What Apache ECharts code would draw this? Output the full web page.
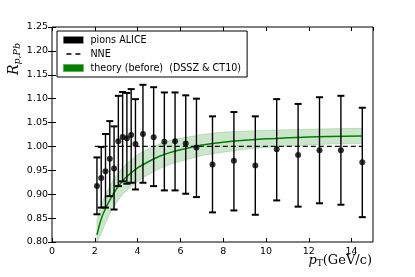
<!DOCTYPE html>
<html>
<head>
<meta charset="utf-8">
<script src="https://cdn.jsdelivr.net/npm/echarts@6/dist/echarts.min.js"></script>
<style>html,body{margin:0;padding:0;background:#fff}#c{width:415px;height:277px}</style>
</head>
<body>
<div id="c"></div>
<script>
// ALICE pions data: pT, R, lower, upper
const dataPt  = [2.1, 2.3, 2.5, 2.7, 2.9, 3.1, 3.3, 3.5, 3.7, 3.9, 4.25, 4.75, 5.25, 5.75, 6.25, 6.75, 7.5, 8.5, 9.5, 10.5, 11.5, 12.5, 13.5, 14.5];
const dataR   = [0.917, 0.934, 0.948, 0.974, 0.954, 1.011, 1.020, 1.017, 1.024, 1.005, 1.026, 1.019, 1.010, 1.011, 1.006, 0.998, 0.962, 0.970, 0.960, 0.994, 0.982, 0.992, 0.992, 0.967];
const dataLo  = [0.858, 0.872, 0.872, 0.896, 0.868, 0.917, 0.927, 0.922, 0.924, 0.910, 0.924, 0.917, 0.908, 0.908, 0.901, 0.894, 0.862, 0.866, 0.857, 0.887, 0.874, 0.881, 0.878, 0.852];
const dataHi  = [0.977, 0.999, 1.026, 1.053, 1.042, 1.106, 1.114, 1.112, 1.120, 1.099, 1.129, 1.124, 1.113, 1.113, 1.107, 1.100, 1.063, 1.072, 1.063, 1.099, 1.089, 1.103, 1.106, 1.081];

// theory curve and band
const thPt    = [2.1, 2.3, 2.5, 2.75, 3.0, 3.25, 3.5, 4.0, 4.5, 5.0, 5.5, 6.0, 7.0, 8.0, 9.0, 10.0, 11.0, 12.0, 13.0, 14.5];
const thR     = [0.815, 0.848, 0.870, 0.892, 0.910, 0.925, 0.937, 0.955, 0.968, 0.979, 0.987, 0.993, 1.003, 1.009, 1.013, 1.016, 1.018, 1.020, 1.021, 1.022];
const thUp    = [0.845, 0.878, 0.900, 0.921, 0.939, 0.953, 0.965, 0.983, 0.995, 1.005, 1.012, 1.017, 1.025, 1.030, 1.032, 1.034, 1.035, 1.036, 1.037, 1.038];
const thLow   = [0.785, 0.818, 0.840, 0.863, 0.881, 0.897, 0.909, 0.927, 0.941, 0.953, 0.962, 0.969, 0.981, 0.988, 0.994, 0.998, 1.001, 1.003, 1.005, 1.006];

// NNE
const nnePt   = [2.0, 14.5];
const nneR    = [1.0, 1.0];

const xTicksInterval = 2;
const yTicksInterval = 0.05;

const FONT = 'DejaVu Sans';
const yMin = 0.80, yMax = 1.25;

const chart = echarts.init(document.getElementById('c'), null, {renderer: 'canvas'});

const pts = dataPt.map((x, i) => [x, dataR[i], dataLo[i], dataHi[i]]);

const axisCommon = {
  axisTick: {show: true, inside: true, length: 4, lineStyle: {color: '#000', width: 1}},
  splitLine: {show: false},
  axisLine: {show: false}
};

chart.setOption({
  animation: false,
  backgroundColor: '#fff',
  grid: {left: 52, right: 42, top: 27, bottom: 35, show: true, borderColor: '#000', borderWidth: 1, backgroundColor: 'transparent'},
  xAxis: [
    Object.assign({
      type: 'value', min: 0, max: 15, interval: xTicksInterval, position: 'bottom',
      axisLabel: {show: true, color: '#000', fontFamily: FONT, fontSize: 9.5, margin: 5, showMaxLabel: false}
    }, axisCommon),
    Object.assign({
      type: 'value', min: 0, max: 15, interval: xTicksInterval, position: 'top',
      axisLabel: {show: false}
    }, axisCommon)
  ],
  yAxis: [
    Object.assign({
      type: 'value', min: yMin, max: yMax, interval: yTicksInterval, position: 'left',
      axisLabel: {show: true, color: '#000', fontFamily: FONT, fontSize: 9.5, margin: 4,
        formatter: v => v.toFixed(2)}
    }, axisCommon),
    Object.assign({
      type: 'value', min: yMin, max: yMax, interval: yTicksInterval, position: 'right',
      axisLabel: {show: false}
    }, axisCommon)
  ],
  legend: {
    orient: 'vertical', left: 57, top: 31,
    padding: [3, 6, 3, 6], itemGap: 2, itemWidth: 20, itemHeight: 7,
    borderColor: '#000', borderWidth: 1, borderRadius: 0, backgroundColor: '#fff',
    textStyle: {fontFamily: FONT, fontSize: 9.6, color: '#000', lineHeight: 12, padding: [0, 0, 0, 2]},
    data: [
      {name: 'pions ALICE', icon: 'rect', itemStyle: {color: '#000', borderWidth: 0}},
      {name: 'NNE', icon: 'path://M0,0M20,7M3,2.8h5v1.4h-5zM12,2.8h5v1.4h-5z', itemStyle: {color: '#000', borderWidth: 0}},
      {name: 'theory (before)  (DSSZ & CT10)', icon: 'rect', itemStyle: {color: '#008000', borderColor: '#5aa85a', borderWidth: 0.8}}
    ],
    selectedMode: false
  },
  graphic: [{
    type: 'text', x: 14, y: 59, rotation: Math.PI / 2,
    style: {
      text: '{r|R}{s|p,Pb}',
      align: 'center', verticalAlign: 'middle',
      rich: {
        r: {fontFamily: 'DejaVu Serif', fontStyle: 'italic', fontSize: 14, fill: '#000'},
        s: {fontFamily: 'DejaVu Serif', fontStyle: 'italic', fontSize: 9.5, fill: '#000', verticalAlign: 'bottom', padding: [7, 0, 0, 0]}
      }
    }
  }, {
    type: 'text', x: 372, y: 261,
    style: {
      text: '{p|p}{t|T}{g|(GeV/c)}',
      align: 'right', verticalAlign: 'middle',
      rich: {
        p: {fontFamily: 'DejaVu Serif', fontStyle: 'italic', fontSize: 13, fill: '#000'},
        t: {fontFamily: 'DejaVu Serif', fontSize: 9, fill: '#000', verticalAlign: 'bottom', padding: [6, 0, 0, 0]},
        g: {fontFamily: 'DejaVu Serif', fontSize: 13, fill: '#000'}
      }
    }
  }],
  series: [
    {
      name: 'theory (before)  (DSSZ & CT10)',
      type: 'custom', clip: true, z: 1, silent: true,
      data: [[thPt[0], thR[0]]],
      renderItem: function (params, api) {
        const up = thPt.map((x, i) => api.coord([x, thUp[i]]));
        const low = thPt.map((x, i) => api.coord([x, Math.max(thLow[i], yMin)])).reverse();
        return {
          type: 'polygon',
          shape: {points: up.concat(low)},
          style: {fill: 'rgba(0,128,0,0.2)', stroke: 'rgba(0,128,0,0.18)', lineWidth: 1}
        };
      }
    },
    {
      name: 'theory (before)  (DSSZ & CT10)',
      type: 'line', z: 2, symbol: 'none', smooth: 0.3, clip: true,
      data: thPt.map((x, i) => [x, thR[i]]),
      lineStyle: {color: '#008000', width: 1.5},
      itemStyle: {color: '#008000'}
    },
    {
      name: 'NNE',
      type: 'line', z: 3, symbol: 'none',
      data: nnePt.map((x, i) => [x, nneR[i]]),
      lineStyle: {color: '#111', width: 1.3, type: [5, 3]},
      itemStyle: {color: '#000'}
    },
    {
      name: 'pions ALICE',
      type: 'custom', z: 4,
      data: pts,
      encode: {x: 0, y: [2, 3]},
      renderItem: function (params, api) {
        const x = api.value(0);
        const pl = api.coord([x, api.value(2)]);
        const ph = api.coord([x, api.value(3)]);
        const w = 3.5;
        const st = {stroke: '#000', lineWidth: 1.4};
        return {
          type: 'group',
          children: [
            {type: 'line', shape: {x1: pl[0], y1: pl[1], x2: ph[0], y2: ph[1]}, style: st},
            {type: 'line', shape: {x1: pl[0] - w, y1: pl[1], x2: pl[0] + w, y2: pl[1]}, style: {stroke: '#000', lineWidth: 2}},
            {type: 'line', shape: {x1: ph[0] - w, y1: ph[1], x2: ph[0] + w, y2: ph[1]}, style: {stroke: '#000', lineWidth: 2}}
          ]
        };
      }
    },
    {
      name: 'pions ALICE',
      type: 'scatter', z: 5, symbol: 'circle', symbolSize: 6,
      data: pts.map(p => [p[0], p[1]]),
      itemStyle: {color: '#000'}
    }
  ]
});
</script>
</body>
</html>
